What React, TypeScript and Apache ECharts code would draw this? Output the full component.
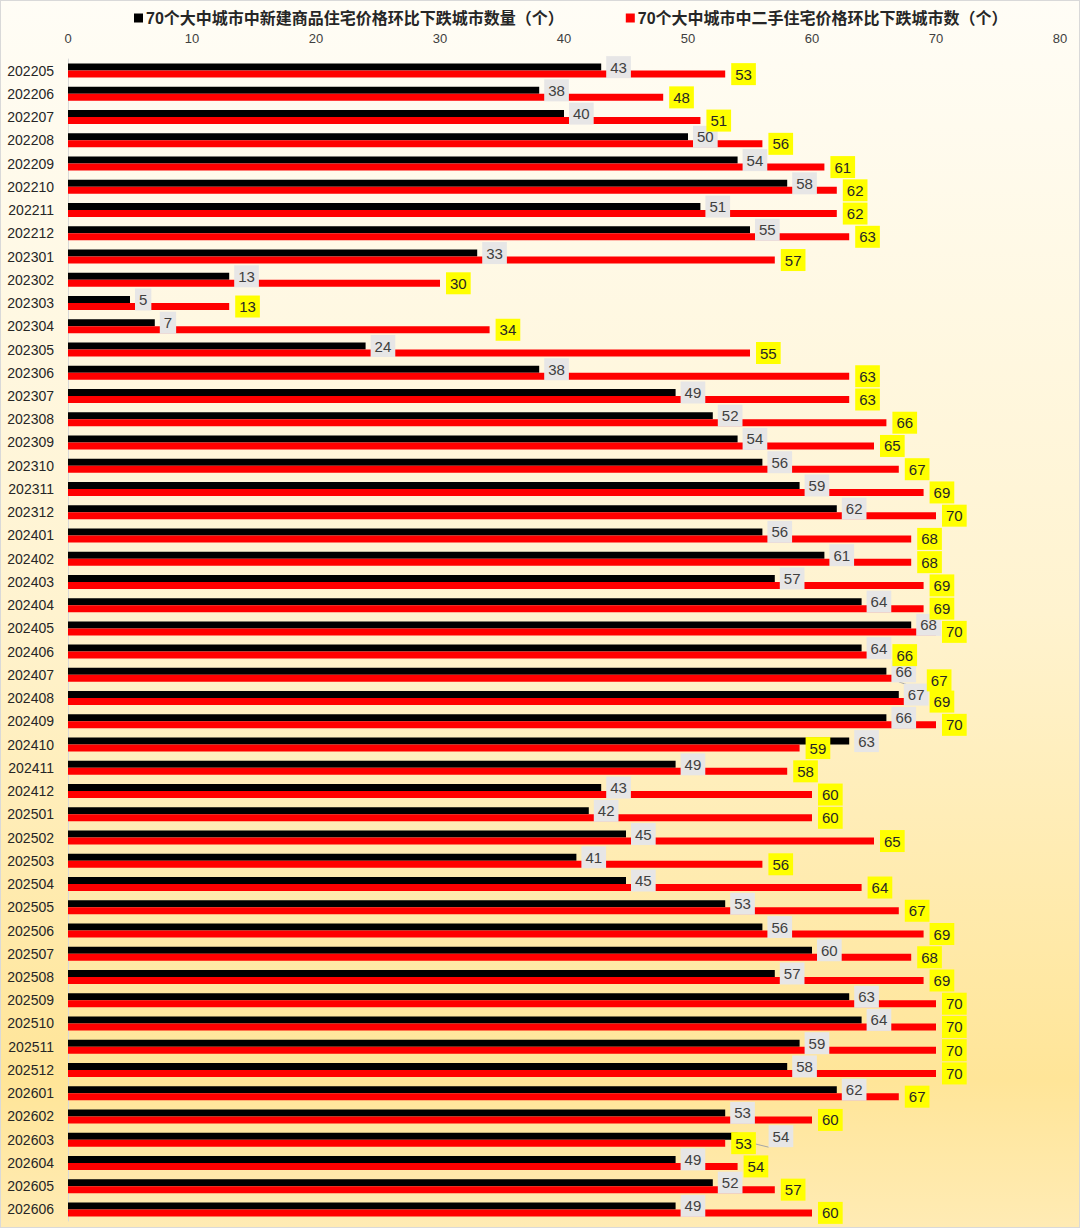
import React, { useEffect, useRef } from "react";
import * as echarts from "echarts";

const months = [
  "202205","202206","202207","202208","202209","202210","202211","202212",
  "202301","202302","202303","202304","202305","202306","202307","202308","202309","202310","202311","202312",
  "202401","202402","202403","202404","202405","202406","202407","202408","202409","202410","202411","202412",
  "202501","202502","202503","202504","202505","202506","202507","202508","202509","202510","202511","202512",
  "202601","202602","202603","202604","202605","202606",
];

const newHomeDeclines = [
  43, 38, 40, 50, 54, 58, 51, 55,
  33, 13, 5, 7, 24, 38, 49, 52, 54, 56, 59, 62,
  56, 61, 57, 64, 68, 64, 66, 67, 66, 63, 49, 43,
  42, 45, 41, 45, 53, 56, 60, 57, 63, 64, 59, 58,
  62, 53, 54, 49, 52, 49,
];

const secondHandDeclines = [
  53, 48, 51, 56, 61, 62, 62, 63,
  57, 30, 13, 34, 55, 63, 63, 66, 65, 67, 69, 70,
  68, 68, 69, 69, 70, 66, 67, 69, 70, 59, 58, 60,
  60, 65, 56, 64, 67, 69, 68, 69, 70, 70, 70, 70,
  67, 60, 53, 54, 57, 60,
];

const seriesNames = [
  "70个大中城市中新建商品住宅价格环比下跌城市数量（个）",
  "70个大中城市中二手住宅价格环比下跌城市数（个）",
];

const FONT = "'Liberation Sans', 'Noto Sans CJK SC', sans-serif";

// When both labels would collide, nudge the one that sits further out (as the spreadsheet did).
const newItems = newHomeDeclines.map((v, i) => {
  const d = v - secondHandDeclines[i];
  if (d > 0 && d < 2) {
    return { value: v, label: { offset: [26, 0] }, labelLine: { show: true } };
  }
  return v;
});
const secondItems = secondHandDeclines.map((v, i) => {
  const d = v - newHomeDeclines[i];
  if (d >= 0 && d < 2) {
    return { value: v, label: { offset: [22, 2] }, labelLine: { show: true } };
  }
  return v;
});

export default function App() {
  const ref = useRef<HTMLDivElement>(null);
  useEffect(() => {
    document.body.style.margin = "0";
    if (!ref.current) return;
    const chart = echarts.init(ref.current, undefined, { renderer: "svg" });
    chart.setOption({
      animation: false,
      backgroundColor: {
        type: "linear",
        x: 0, y: 0, x2: 0, y2: 1,
        colorStops: [
          { offset: 0, color: "#FFFDF6" },
          { offset: 0.5, color: "#FFF3CF" },
          { offset: 0.88, color: "#FFE598" },
          { offset: 1, color: "#FFEBB4" },
        ],
      },
      legend: {
        top: 4,
        left: 128,
        itemGap: 62,
        itemWidth: 9,
        itemHeight: 9,
        icon: "rect",
        textStyle: {
          fontFamily: FONT,
          fontSize: 16,
          fontWeight: "bold",
          color: "#262626",
          padding: [0, 0, 0, -2],
        },
        data: seriesNames,
      },
      grid: { left: 67, right: 19, top: 58, bottom: 6, containLabel: false },
      xAxis: {
        type: "value",
        position: "top",
        min: 0,
        max: 80,
        interval: 10,
        axisLine: { show: false },
        axisTick: { show: false },
        splitLine: { show: false },
        axisLabel: { fontFamily: FONT, fontSize: 13, color: "#404040", margin: 14 },
      },
      yAxis: {
        type: "category",
        inverse: true,
        data: months,
        axisLine: { show: true, lineStyle: { color: "#D9D9D9", width: 1 } },
        axisTick: { show: false },
        axisLabel: { fontFamily: FONT, fontSize: 14, color: "#262626", margin: 14 },
      },
      series: [
        {
          name: seriesNames[0],
          type: "bar",
          data: newItems,
          barWidth: 7,
          barGap: "0%",
          itemStyle: { color: "#000000" },
          labelLine: { show: false, lineStyle: { color: "#A6A6A6", width: 1 } },
          label: {
            show: true,
            position: "right",
            distance: 5,
            fontFamily: FONT,
            fontSize: 15,
            color: "#404040",
            backgroundColor: "#E7E6E6",
            padding: [4, 4, 3, 4],
          },
        },
        {
          name: seriesNames[1],
          type: "bar",
          data: secondItems,
          barWidth: 7,
          barGap: "0%",
          itemStyle: { color: "#FF0000" },
          labelLine: { show: false, lineStyle: { color: "#A6A6A6", width: 1 } },
          label: {
            show: true,
            position: "right",
            distance: 6,
            fontFamily: FONT,
            fontSize: 15,
            color: "#262626",
            backgroundColor: "#FFFF00",
            padding: [4, 4, 3, 4],
          },
        },
      ],
    });
    return () => chart.dispose();
  }, []);
  return (
    <div
      ref={ref}
      style={{
        position: "absolute",
        left: 0,
        top: 0,
        width: 1080,
        height: 1228,
        boxSizing: "border-box",
        border: "1px solid #D9D9D9",
      }}
    />
  );
}
